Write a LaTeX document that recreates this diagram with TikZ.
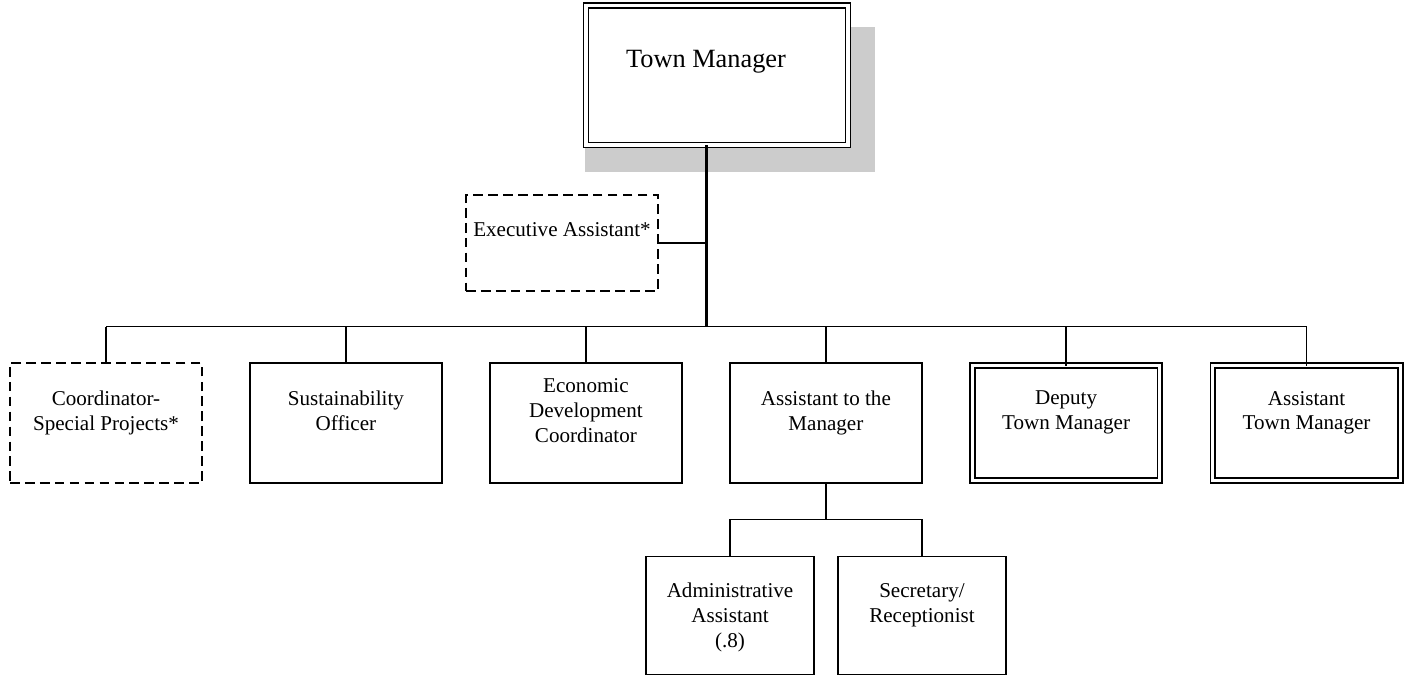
\documentclass[tikz,border=0pt]{standalone}
\usepackage{fontspec}
\setmainfont{Liberation Serif}
\usetikzlibrary{positioning}

\begin{document}
\begin{tikzpicture}[x=0.02cm, y=-0.02cm,
  post/.style={rectangle, draw, line width=0.95pt, fill=white, inner sep=0pt, outer sep=0pt,
    minimum width=3.84cm, minimum height=2.4cm},
  vacant/.style={post, dash pattern=on 5.5pt off 3pt},
  chief/.style={post, double, double distance=1.9pt, line width=0.9pt, minimum width=3.75cm, minimum height=2.3cm},
  title/.style={align=center, inner sep=0pt, font=\fontsize{12}{14.2}\selectfont},
  link/.style={line width=0.95pt},
  trunk/.style={line width=1.5pt}
]
  \useasboundingbox (0,0) rectangle (1408,676);

  % town manager and its shadow
  \fill[black!20] (585,27) rectangle (875,172);
  \node[chief, minimum width=5.24cm, minimum height=2.79cm] (tm) at (717,75.3) {};
  \node[title, font=\fontsize{15}{18}\selectfont] (tm-t) at (706,62) {Town Manager};
  \coordinate (hub) at (706.5,326.5);

  % executive assistant
  \node[vacant, minimum height=1.92cm] (exec) at (562,243) {};
  \node[title] (exec-t) at (562,230) {Executive Assistant*};

  % direct reports
  \node[vacant] (coord) at (106,423) {};
  \node[post, right=0.96cm of coord] (sust) {};
  \node[post, right=0.96cm of sust] (econ) {};
  \node[post, right=0.96cm of econ] (asst) {};
  \node[chief, right=1.01cm of asst] (deputy) {};
  \node[chief, right=1.06cm of deputy] (atm) {};
  \node[title] (coord-t) at (coord |- 0,412.8) {Coordinator-\\Special Projects*};
  \node[title] (sust-t) at (sust |- 0,410.6) {Sustainability\\Officer};
  \node[title] (econ-t) at (econ |- 0,410.7) {Economic\\Development\\Coordinator};
  \node[title] (asst-t) at (asst |- 0,412.8) {Assistant to the\\Manager};
  \node[title] (deputy-t) at (deputy |- 0,412.8) {Deputy\\Town Manager};
  \node[title] (atm-t) at (atm |- 0,412.8) {Assistant\\Town Manager};

  % support staff
  \node[post, minimum width=3.36cm, minimum height=2.36cm] (admin) at (730,615.5) {};
  \node[post, minimum width=3.36cm, minimum height=2.36cm, right=0.48cm of admin] (secr) {};
  \node[title] (admin-t) at (admin |- 0,617.3) {Administrative\\Assistant\\(.8)};
  \node[title] (secr-t) at (secr |- 0,604.8) {Secretary/\\Receptionist};
  \coordinate[below=0.73cm of asst.south] (fork);

  % reporting lines
  \draw[trunk] (tm.south -| hub) -- (hub);
  \draw[link] (exec.east) -- (exec.east -| hub);
  \draw[link] (coord.north |- hub) -- (atm.north |- hub);
  \foreach \n in {coord,sust,econ,asst,deputy,atm}
    \draw[link] (\n.north |- hub) -- (\n.north);
  \draw[link] (asst.south) -- (fork);
  \draw[link] (admin.north) |- (fork) -| (secr.north);
\end{tikzpicture}
\end{document}
